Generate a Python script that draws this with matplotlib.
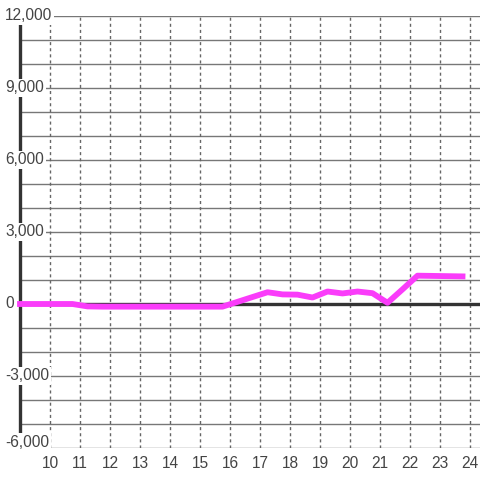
import matplotlib
matplotlib.use("Agg")
import matplotlib.pyplot as plt
from matplotlib.transforms import blended_transform_factory, offset_copy

plt.rcParams['font.family'] = ['Liberation Sans', 'DejaVu Sans']

hours = [9.0, 9.25, 9.75, 10.25, 10.75, 11.25, 11.75, 12.25, 12.75, 13.25, 13.75,
         14.25, 14.75, 15.25, 15.75, 16.25, 16.75, 17.25, 17.75, 18.25, 18.75,
         19.25, 19.75, 20.25, 20.75, 21.25, 21.75, 22.25, 22.75, 23.25, 23.75]
values = [0, 0, 0, 0, 0, -100, -110, -110, -110, -110, -110,
          -110, -110, -110, -110, 90, 290, 490, 400, 390, 270,
          520, 440, 520, 450, 50, 610, 1180, 1170, 1160, 1150]

x_ticks = list(range(10, 25))
y_ticks = [-6000, -3000, 0, 3000, 6000, 9000, 12000]
y_tick_labels = ['-6,000', '-3,000', '0', '3,000', '6,000', '9,000', '12,000']

fig = plt.figure(figsize=(4.8, 4.8), dpi=100)
ax = fig.add_axes([20/480, 32/480, 460/480, 432/480])
ax.set_xlim(9.0, 24 + 1/3)
ax.set_ylim(-6000, 12000)

# grid
for v in range(-6000, 12001, 1000):
    ax.axhline(v, color='#777777', lw=1.0, zorder=1)
for h in x_ticks:
    ax.axvline(h, color='#666666', lw=1.0, ls=(0, (2.2, 2.2)), zorder=1)

ax.axhline(0, color='#333333', lw=2.4, zorder=2)

for s in ['top', 'right', 'bottom']:
    ax.spines[s].set_visible(False)
ax.spines['left'].set_linewidth(2.4)
ax.spines['left'].set_color('#333333')
ax.spines['left'].set_zorder(2.5)

ax.plot(hours, values, color='#fa3cfa', lw=4.2, solid_capstyle='projecting',
        solid_joinstyle='round', clip_on=False, zorder=4)

ax.set_xticks(x_ticks)
ax.set_xticklabels([str(h) for h in x_ticks])
ax.tick_params(axis='x', length=0, pad=6, labelsize=11.2, labelcolor='#444444')
ax.set_yticks([])

trans = blended_transform_factory(fig.transFigure, ax.transData)
for v, lab in zip(y_ticks, y_tick_labels):
    if v == y_ticks[0]:
        t = offset_copy(trans, fig=fig, x=0, y=1, units='dots')
        va = 'baseline'
    else:
        t = trans
        va = 'center'
    ax.text(5/480, v, lab, transform=t, ha='left', va=va, fontsize=11.2,
            color='#444444', zorder=6, clip_on=False,
            bbox=dict(boxstyle='square,pad=0.12', fc='white', ec='none'))

fig.savefig('out.png', dpi=100)
